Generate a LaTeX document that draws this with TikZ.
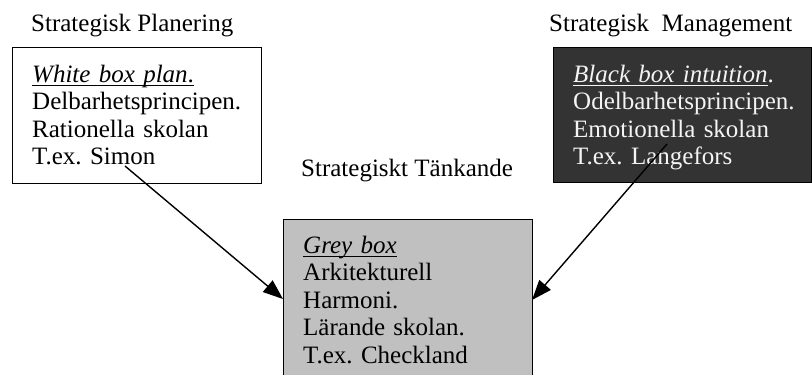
\documentclass[tikz,border=0pt]{standalone}
\usepackage{fontspec}
\setmainfont{Liberation Serif}
\usetikzlibrary{arrows.meta}
\frenchspacing
% underline that sits just below the baseline and crosses descenders
\newcommand{\ulin}[1]{\setbox0\hbox{#1}\rlap{\rule[-3.6pt]{\wd0}{1.1pt}}\box0}
\definecolor{boxdark}{HTML}{333333}
\definecolor{boxgrey}{HTML}{C0C0C0}
\definecolor{paletext}{HTML}{F4F4F4}
\begin{document}
\begin{tikzpicture}[x=1pt,y=-1pt,
  frame/.style={draw=black, line width=1.3pt, anchor=north west, inner sep=0pt},
  body/.style={anchor=base west, inner sep=0pt, text width=245pt, align=left,
    font=\fontsize{25}{27.5}\selectfont},
  title/.style={anchor=base west, inner sep=0pt, font=\fontsize{25}{27.5}\selectfont},
  link/.style={-{Triangle[length=20pt,width=15pt]}, line width=1.4pt}]
\useasboundingbox (0,0) rectangle (812,375);
\fill[white] (0,0) rectangle (812,375);

% titles
\node[title] (tplan) at (31,31) {Strategisk Planering};
\node[title] (tman) at (549,31) {Strategisk\ \ Management};
\node[title] (ttank) at (301,176) {Strategiskt Tänkande};

% boxes
\node[frame, fill=white, minimum width=249pt, minimum height=136pt] (wbox) at (12,47) {};
\node[frame, fill=boxdark, minimum width=258pt, minimum height=135pt] (bbox) at (553,47) {};
\node[frame, fill=boxgrey, minimum width=249pt, minimum height=175pt] (gbox) at (283,219) {};

% box texts
\node[body] (wtext) at (32,82) {\ulin{\textit{White box plan}.}\\Delbarhetsprincipen.\\Rationella skolan\\T.ex. Simon};
\node[body, text=paletext] (btext) at (573,82) {\ulin{\textit{Black box intuition}}.\\Odelbarhetsprincipen.\\Emotionella skolan\\T.ex. Langefors};
\node[body] (gtext) at (303,253) {\ulin{\textit{Grey box}}\\Arkitekturell\\Harmoni.\\Lärande skolan.\\T.ex. Checkland};

% connectors
\coordinate (wfrom) at (125,166);
\coordinate (bfrom) at (667,144);
\coordinate (gleft) at (283,299);
\coordinate (gright) at (532,300);
\draw[link] (wfrom) -- (gleft);
\draw[link] (bfrom) -- (gright);
\end{tikzpicture}
\end{document}
